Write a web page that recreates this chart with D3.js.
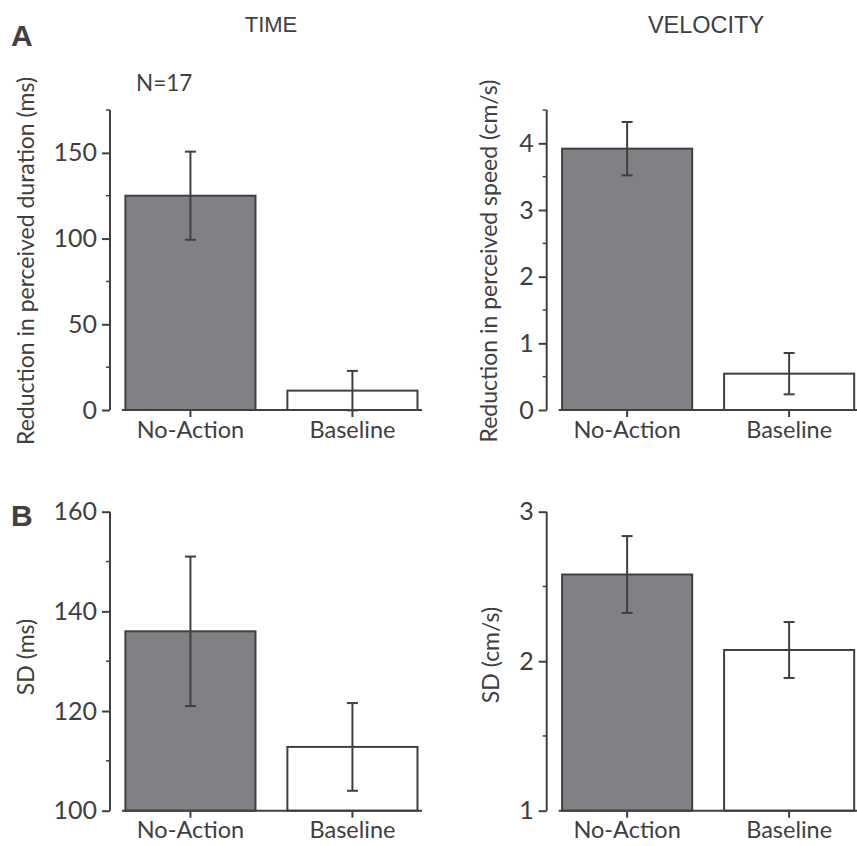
<!DOCTYPE html>
<html><head><meta charset="utf-8">
<script src="https://cdn.jsdelivr.net/npm/d3@7"></script>
<style>body{margin:0;background:#fff}svg{display:block}</style>
</head><body>
<script>
const categories = ["No-Action", "Baseline"];
const timeReduction = [125, 11.3];
const timeReductionErr = [25.7, 11.5];
const speedReduction = [3.92, 0.545];
const speedReductionErr = [0.40, 0.31];
const timeSD = [136, 112.8];
const timeSDErr = [15, 8.8];
const speedSD = [2.58, 2.075];
const speedSDErr = [0.257, 0.187];
const timeRedTicks = [0, 50, 100, 150];
const speedRedTicks = [0, 1, 2, 3, 4];
const timeSDTicks = [100, 120, 140, 160];
const speedSDTicks = [1, 2, 3];
const fills = ["#808184", "#ffffff"];

const W = 857, H = 846;
const ink = "#404040";
const svg = d3.select("body").append("svg").attr("width", W).attr("height", H);
const FONT = "Lato, 'Open Sans', sans-serif";
const ARIAL = "'Liberation Sans', Arial, sans-serif";

const panels = [
  {ax: 110, y0: 410, y1: 110, dom: [0, 175], minor: 25, ticks: timeRedTicks, vals: timeReduction, errs: timeReductionErr,
   label: "Reduction in perceived duration (ms)", lx: 25, ly: 261, xEnd: 422},
  {ax: 546.7, y0: 410, y1: 110, dom: [0, 4.5], minor: 0.5, ticks: speedRedTicks, vals: speedReduction, errs: speedReductionErr,
   label: "Reduction in perceived speed (cm/s)", lx: 488, ly: 261, xEnd: 857},
  {ax: 110, y0: 810.7, y1: 511.7, dom: [100, 160], minor: 10, ticks: timeSDTicks, vals: timeSD, errs: timeSDErr,
   label: "SD (ms)", lx: 25, ly: 657, xEnd: 422},
  {ax: 546.7, y0: 810.7, y1: 511.7, dom: [1, 3], minor: 0.5, ticks: speedSDTicks, vals: speedSD, errs: speedSDErr,
   label: "SD (cm/s)", lx: 490, ly: 655, xEnd: 857}
];

panels.forEach(p => {
  const g = svg.append("g");
  const y = d3.scaleLinear().domain(p.dom).range([p.y0, p.y1]);
  const x = d3.scaleBand().domain(categories)
    .range([p.ax, p.ax + 162 * (2 - 0.197 + 2 * 0.095)])
    .paddingInner(0.197).paddingOuter(0.095);

  // bars
  g.selectAll("rect.bar").data(categories).enter().append("rect")
    .attr("x", d => x(d)).attr("width", x.bandwidth())
    .attr("y", (d, i) => y(p.vals[i]))
    .attr("height", (d, i) => y(p.dom[0]) - y(p.vals[i]))
    .attr("fill", (d, i) => fills[i])
    .attr("stroke", ink).attr("stroke-width", 2);

  // minor ticks
  const minorVals = d3.range(p.dom[0], p.dom[1] + 1e-9, p.minor).filter(v => !p.ticks.some(t => Math.abs(t - v) < 1e-9));
  g.selectAll("line.minor").data(minorVals).enter().append("line")
    .attr("x1", p.ax - 4).attr("x2", p.ax)
    .attr("y1", d => y(d)).attr("y2", d => y(d))
    .attr("stroke", ink).attr("stroke-width", 1.5);

  // y axis
  const yAxis = d3.axisLeft(y).tickValues(p.ticks).tickFormat(d3.format("~g"))
    .tickSize(8).tickPadding(5).tickSizeOuter(0);
  const ya = g.append("g").attr("transform", `translate(${p.ax},0)`).call(yAxis);
  ya.select(".domain").attr("stroke", ink).attr("stroke-width", 2)
    .attr("d", `M0,${p.y1}V${p.y0}`);
  ya.selectAll(".tick line").attr("stroke", ink).attr("stroke-width", 2);
  ya.selectAll(".tick text").attr("fill", ink).style("font-family", FONT).style("font-size", "25px");

  // x axis
  const xAxis = d3.axisBottom(x).tickSize(7).tickPadding(4).tickSizeOuter(0);
  const xa = g.append("g").attr("transform", `translate(0,${p.y0})`).call(xAxis);
  xa.select(".domain").attr("stroke", ink).attr("stroke-width", 2)
    .attr("d", `M${p.ax + 12},0H${p.xEnd}`);
  xa.selectAll(".tick line").attr("stroke", ink).attr("stroke-width", 2);
  xa.selectAll(".tick text").attr("fill", ink).style("font-family", FONT).style("font-size", "23.5px");

  // error bars
  const eb = g.selectAll("g.err").data(categories).enter().append("g");
  eb.append("line")
    .attr("x1", d => x(d) + x.bandwidth() / 2).attr("x2", d => x(d) + x.bandwidth() / 2)
    .attr("y1", (d, i) => y(p.vals[i] + p.errs[i])).attr("y2", (d, i) => y(p.vals[i] - p.errs[i]))
    .attr("stroke", ink).attr("stroke-width", 2);
  [1, -1].forEach(s => {
    eb.append("line")
      .attr("x1", d => x(d) + x.bandwidth() / 2 - 5.5).attr("x2", d => x(d) + x.bandwidth() / 2 + 5.5)
      .attr("y1", (d, i) => y(p.vals[i] + s * p.errs[i])).attr("y2", (d, i) => y(p.vals[i] + s * p.errs[i]))
      .attr("stroke", ink).attr("stroke-width", 2);
  });

  // y label
  g.append("text")
    .attr("transform", `translate(${p.lx},${p.ly}) rotate(-90)`)
    .attr("text-anchor", "middle").attr("dominant-baseline", "central")
    .attr("fill", ink).style("font-family", FONT).style("font-size", "23px")
    .text(p.label);
});

// titles
svg.append("text").attr("x", 271).attr("y", 32).attr("text-anchor", "middle")
  .attr("fill", ink).style("font-family", ARIAL).style("font-size", "22px").text("TIME");
svg.append("text").attr("x", 706).attr("y", 33).attr("text-anchor", "middle")
  .attr("fill", ink).style("font-family", ARIAL).style("font-size", "23.5px").text("VELOCITY");
svg.append("text").attr("x", 11).attr("y", 46)
  .attr("fill", ink).style("font-family", ARIAL).style("font-weight", "bold").style("font-size", "30px").text("A");
svg.append("text").attr("x", 11).attr("y", 526)
  .attr("fill", ink).style("font-family", ARIAL).style("font-weight", "bold").style("font-size", "30px").text("B");
svg.append("text").attr("x", 136).attr("y", 91)
  .attr("fill", ink).style("font-family", FONT).style("font-size", "22.5px").text("N=17");
</script>
</body></html>
